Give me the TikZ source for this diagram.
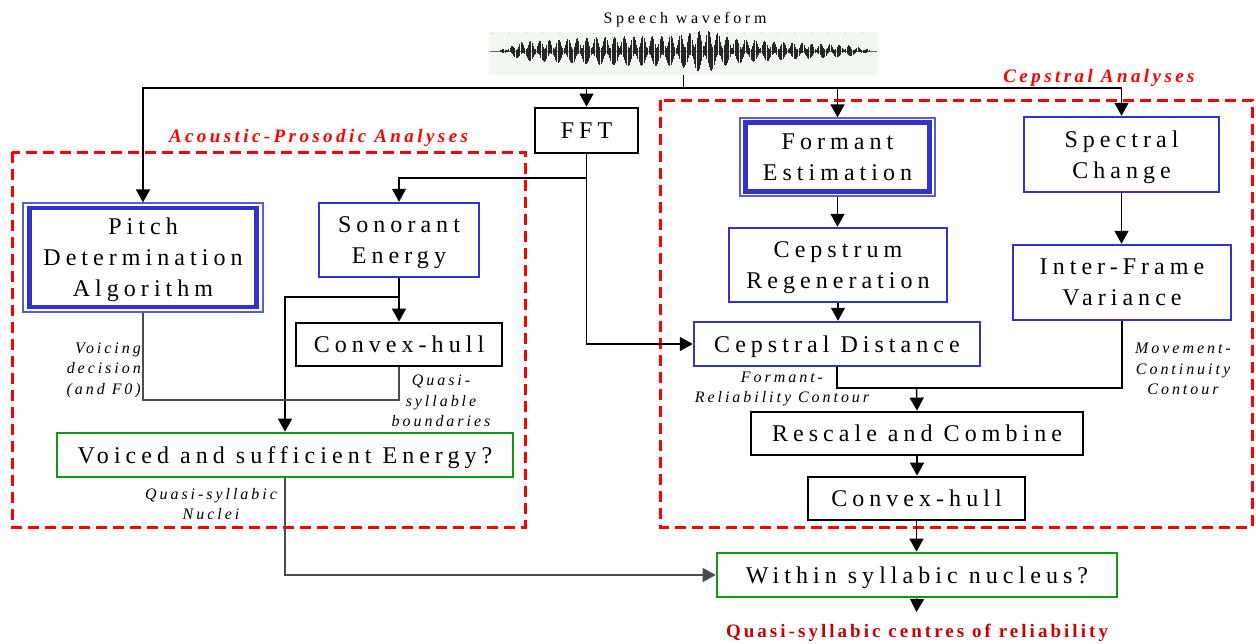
\documentclass[tikz,border=0pt]{standalone}
\usepackage{fontspec}
\setmainfont{Liberation Serif}
\newfontfamily\boxfont{Liberation Serif}[LetterSpace=21]
\newfontfamily\lblfont{Liberation Serif}[LetterSpace=18.5]
\newfontfamily\titfont{Liberation Serif}[LetterSpace=23]
\newfontfamily\redfont{Liberation Serif}[LetterSpace=18]
\newfontfamily\outfont{Liberation Serif}[LetterSpace=16]
\usetikzlibrary{arrows.meta}
\definecolor{bxblue}{HTML}{3333CC}
\definecolor{bxgreen}{HTML}{129912}
\definecolor{dred}{HTML}{CC0000}
\definecolor{wavebg}{HTML}{F2F7F2}
\tikzset{
  base box/.style={rectangle, inner sep=0pt, text depth=0pt, font=\boxfont\fontsize{24}{31}\selectfont, align=center},
  bluebox/.style={base box, draw=bxblue, line width=2.5pt},
  dblbox/.style={base box, draw=bxblue!80, line width=1.2pt},
  blackbox/.style={base box, draw=black, line width=2.8pt},
  greenbox/.style={base box, draw=bxgreen, line width=2.6pt},
  lbl/.style={font=\lblfont\itshape\fontsize{16}{20.5}\selectfont, align=center, inner sep=0pt},
  redlbl/.style={font=\redfont\bfseries\itshape\fontsize{19}{22}\selectfont, text=red, inner sep=0pt},
  conn/.style={draw=black, line width=1.4pt},
  conn2/.style={draw=black!70, line width=1.5pt},
  tip/.tip={Triangle[length=13pt,width=14pt]},
  arr/.style={conn, -tip},
  region/.style={draw=red, line width=3pt, dash pattern=on 11pt off 6pt},
  wavestyle/.style={draw=black!85, line width=0.6pt}
}
\begin{document}
\begin{tikzpicture}[x=1pt,y=-1pt]
\useasboundingbox (0,0) rectangle (1256,643);

% dashed analysis regions
\draw[region] (12,152) rectangle (525,527);
\draw[region] (660,100) rectangle (1252,527);
\node[redlbl, anchor=base] (aplbl) at (318.5,142) {Acoustic-Prosodic Analyses};
\node[redlbl, anchor=base] (cplbl) at (1099,82) {Cepstral Analyses};

% waveform
\node[anchor=base, inner sep=0pt, font=\titfont\fontsize{16}{18}\selectfont] (title) at (685,23) {Speech waveform};
\node[rectangle, fill=wavebg, minimum width=389pt, minimum height=43pt, inner sep=0pt] (wave) at (683.5,53.5) {};
\draw[violet!35, line width=0.8pt, dash pattern=on 0.8pt off 16pt] (492,33.5) -- (877,33.5);
\draw[black!60, line width=0.6pt] (490,51) -- (877,51);
\foreach \i in {0,...,300} {
  \pgfmathsetmacro\xx{500+1.23*\i}
  \pgfmathsetmacro\ga{(\xx-650)/150}
  \pgfmathsetmacro\gb{(\xx-705)/20}
  \pgfmathsetmacro\ea{exp(-min(\ga*\ga,12))}
  \pgfmathsetmacro\eb{exp(-min(\gb*\gb,12))}
  \pgfmathsetmacro\env{(4+11*\ea+7*\eb)*min(1,(\xx-497)/25)*min(1,(878-\xx)/30)}
  \pgfmathsetmacro\up{\env*(0.6+0.4*sin(\i*47.3))}
  \pgfmathsetmacro\dn{\env*(0.6+0.4*sin(\i*31.7+40))}
  \draw[wavestyle] (\xx,51-\up) -- (\xx,51+\dn);
}

% boxes
\node[blackbox, minimum width=103pt, minimum height=45pt] (fft) at (586.5,130.5) {FFT};
\node[dblbox, minimum width=240pt, minimum height=109pt] (pitch) at (143,257.5) {Pitch\\Determination\\Algorithm};
\draw[bxblue, line width=4.5pt] ([shift={(7,5.5)}]pitch.north west) rectangle ([shift={(-7,-5.5)}]pitch.south east);
\node[bluebox, minimum width=160pt, minimum height=74pt] (sonorant) at (399,240) {Sonorant\\Energy};
\node[blackbox, minimum width=206pt, minimum height=43pt] (chl) at (399,344.5) {Convex-hull};
\node[greenbox, minimum width=456pt, minimum height=44pt] (voiced) at (285,455) {Voiced and sufficient Energy?};

\node[dblbox, minimum width=195pt, minimum height=78pt] (formant) at (837.5,157) {Formant\\Estimation};
\draw[bxblue, line width=4.5pt] ([shift={(6,5)}]formant.north west) rectangle ([shift={(-6,-5)}]formant.south east);
\node[bluebox, minimum width=218pt, minimum height=74pt] (cepstrum) at (838,265) {Cepstrum\\Regeneration};
\node[bluebox, minimum width=286pt, minimum height=44pt] (cepdist) at (837,344) {Cepstral Distance};
\node[bluebox, minimum width=195pt, minimum height=75pt] (spectral) at (1121.5,154.5) {Spectral\\Change};
\node[bluebox, minimum width=218pt, minimum height=75pt] (interframe) at (1122,282.5) {Inter-Frame\\Variance};
\node[blackbox, minimum width=332pt, minimum height=43pt] (rescale) at (917,433.5) {Rescale and Combine};
\node[blackbox, minimum width=217pt, minimum height=43pt] (chr) at (916.5,498.5) {Convex-hull};
\node[greenbox, minimum width=400pt, minimum height=44pt] (within) at (917,575) {Within syllabic nucleus?};
\node[anchor=base, inner sep=0pt, font=\outfont\bfseries\fontsize{19}{22}\selectfont, text=dred] (result) at (917,637) {Quasi-syllabic centres of reliability};

% labels
\node[lbl, align=right, anchor=east] (voicelbl) at (141,370) {Voicing\\decision\\(and F0)};
\node[lbl] (qsblbl) at (441,401) {Quasi-\\syllable\\boundaries};
\node[lbl] (nuclbl) at (211,504) {Quasi-syllabic\\Nuclei};
\node[lbl] (frclbl) at (782,389) {Formant-\\Reliability Contour};
\node[lbl] (mcclbl) at (1183,369) {Movement-\\Continuity\\Contour};

% connectors
\coordinate (j) at (683.5,88);
\draw[conn] (wave.south) -- (j);
\draw[arr] (j) -| (pitch.north);
\draw[arr] (j) -| (fft.north);
\draw[arr] (j) -| (formant.north);
\draw[arr] (j) -| (spectral.north);

\coordinate (f1) at (586.5,178);
\draw[arr] (fft.south) -- (f1) -| (sonorant.north);
\draw[arr] (f1) |- (cepdist.west);

\draw[arr] (sonorant.south) -- (chl.north);
\coordinate (s1) at (399,297);
\draw[arr] (s1) -| (voiced.north);

\coordinate (v1) at (143,400);
\draw[conn2] (pitch.south) -- (v1) -| (chl.south);

\draw[conn2, -tip] (voiced.south) |- (within.west);

\draw[arr] (formant.south) -- (formant.south |- cepstrum.north);
\draw[arr] (cepstrum.south) -- (cepstrum.south |- cepdist.north);
\draw[arr] (spectral.south) -- (spectral.south |- interframe.north);

\coordinate (m) at (916.5,388);
\draw[conn] (cepdist.south) -- (cepdist.south |- m) -- (interframe.south |- m) -- (interframe.south);
\draw[arr] (m) -- (rescale.north);
\draw[arr] (rescale.south) -- (rescale.south |- chr.north);
\draw[arr] (chr.south) -- (chr.south |- within.north);
\coordinate (o1) at (916.5,612);
\draw[arr] (within.south) -- (o1);
\end{tikzpicture}
\end{document}
